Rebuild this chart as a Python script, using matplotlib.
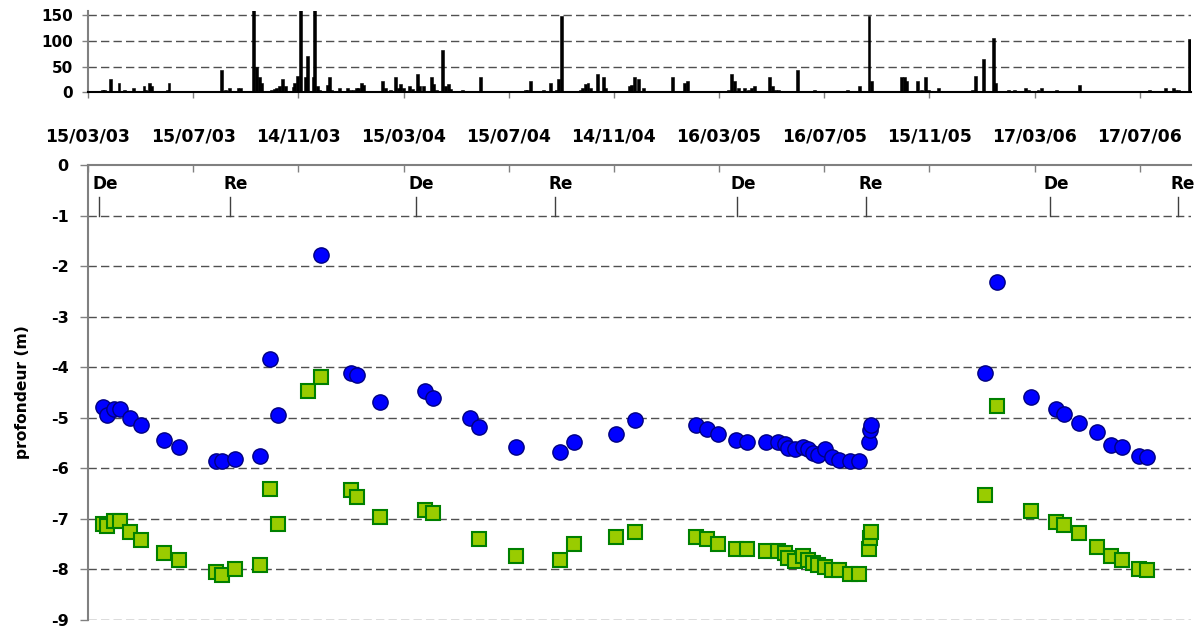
import numpy as np
import pandas as pd
import matplotlib
matplotlib.use('Agg')
import matplotlib.pyplot as plt

plt.rcParams['font.family'] = ['DejaVu Sans']
plt.rcParams['font.weight'] = 'bold'
plt.rcParams['axes.unicode_minus'] = False

# pluie journaliere (mm), jours comptes depuis le 15/03/2003
pluie_j = [17, 19, 26, 36, 42, 53, 65, 67, 71, 74, 92, 94,
           155, 159, 164, 174, 177, 192, 196, 199, 201, 213, 216, 219,
           222, 226, 229, 238, 240, 243, 246, 252, 255, 261, 263, 266,
           269, 278, 280, 283, 292, 301, 305, 308, 311, 314, 317, 320,
           342, 345, 351, 357, 360, 363, 366, 373, 376, 382, 385, 389,
           398, 401, 404, 411, 415, 418, 421, 434, 455, 507, 510, 513,
           528, 537, 543, 546, 549, 571, 574, 577, 580, 583, 591, 598,
           600, 628, 631, 634, 639, 644, 678, 692, 695, 743, 747, 750,
           755, 762, 766, 770, 773, 791, 794, 797, 801, 823, 843, 881,
           895, 906, 909, 944, 947, 950, 962, 967, 971, 975, 987, 1026,
           1029, 1039, 1050, 1053, 1068, 1075, 1087, 1091, 1102, 1106, 1123, 1150,
           1231, 1250, 1259, 1262, 1265, 1278]
pluie_mm = [4, 4, 26, 19, 5, 8, 12, 5, 18, 12, 4, 19,
            43, 4, 8, 8, 8, 180, 50, 30, 19, 4, 6, 8,
            13, 26, 13, 11, 18, 32, 200, 29, 71, 30, 185, 13,
            5, 14, 29, 5, 8, 8, 5, 5, 8, 8, 19, 14,
            22, 8, 5, 29, 8, 16, 8, 12, 6, 36, 12, 12,
            29, 16, 5, 82, 12, 16, 6, 5, 29, 4, 5, 22,
            5, 19, 5, 26, 148, 5, 8, 16, 19, 8, 36, 29,
            8, 12, 14, 29, 26, 8, 29, 19, 22, 4, 36, 22,
            8, 8, 5, 9, 12, 29, 12, 5, 5, 43, 5, 4,
            12, 148, 22, 29, 29, 22, 22, 5, 29, 5, 8, 4,
            32, 64, 106, 18, 4, 4, 8, 4, 4, 8, 4, 15,
            4, 8, 8, 4, 4, 103]

dates_bleu = ['2003-04-01', '2003-04-06', '2003-04-14', '2003-04-21', '2003-05-03',
              '2003-05-15', '2003-06-11', '2003-06-28', '2003-08-11', '2003-08-17',
              '2003-09-01', '2003-09-30', '2003-10-12', '2003-10-21', '2003-12-10',
              '2004-01-14', '2004-01-21', '2004-02-17', '2004-04-09', '2004-04-18',
              '2004-05-31', '2004-06-10', '2004-07-24', '2004-09-12', '2004-09-29',
              '2004-11-16', '2004-12-09', '2005-02-17', '2005-03-02', '2005-03-15',
              '2005-04-05', '2005-04-18', '2005-05-10', '2005-05-23', '2005-05-31',
              '2005-06-04', '2005-06-12', '2005-06-21', '2005-06-27', '2005-07-03',
              '2005-07-09', '2005-07-17', '2005-07-25', '2005-08-02', '2005-08-15',
              '2005-08-25', '2005-09-06', '2005-09-07', '2005-09-08', '2006-01-18',
              '2006-02-01', '2006-03-13', '2006-04-11', '2006-04-20', '2006-05-08',
              '2006-05-29', '2006-06-14', '2006-06-27', '2006-07-16', '2006-07-26']
prof_bleu = [-4.78, -4.94, -4.83, -4.83, -5.01,
             -5.15, -5.43, -5.58, -5.86, -5.86,
             -5.82, -5.75, -3.83, -4.94, -1.78,
             -4.12, -4.16, -4.69, -4.47, -4.61,
             -5.01, -5.18, -5.57, -5.68, -5.47,
             -5.32, -5.04, -5.14, -5.22, -5.32,
             -5.43, -5.47, -5.47, -5.47, -5.51,
             -5.59, -5.62, -5.57, -5.61, -5.69,
             -5.73, -5.61, -5.78, -5.83, -5.85,
             -5.85, -5.47, -5.24, -5.14, -4.12,
             -2.31, -4.58, -4.83, -4.93, -5.11,
             -5.29, -5.53, -5.57, -5.75, -5.78]

dates_vert = ['2003-04-01', '2003-04-06', '2003-04-14', '2003-04-21', '2003-05-03',
              '2003-05-15', '2003-06-11', '2003-06-28', '2003-08-11', '2003-08-17',
              '2003-09-01', '2003-09-30', '2003-10-12', '2003-10-21', '2003-11-25',
              '2003-12-10', '2004-01-14', '2004-01-21', '2004-02-17', '2004-04-09',
              '2004-04-18', '2004-06-10', '2004-07-24', '2004-09-12', '2004-09-29',
              '2004-11-16', '2004-12-09', '2005-02-17', '2005-03-02', '2005-03-15',
              '2005-04-05', '2005-04-18', '2005-05-10', '2005-05-23', '2005-05-31',
              '2005-06-04', '2005-06-12', '2005-06-21', '2005-06-27', '2005-07-03',
              '2005-07-09', '2005-07-17', '2005-07-25', '2005-08-02', '2005-08-15',
              '2005-08-25', '2005-09-06', '2005-09-07', '2005-09-08', '2006-01-18',
              '2006-02-01', '2006-03-13', '2006-04-11', '2006-04-20', '2006-05-08',
              '2006-05-29', '2006-06-14', '2006-06-27', '2006-07-16', '2006-07-26']
prof_vert = [-7.11, -7.15, -7.04, -7.04, -7.25,
             -7.42, -7.67, -7.82, -8.06, -8.10,
             -7.99, -7.92, -6.40, -7.10, -4.47,
             -4.20, -6.42, -6.57, -6.96, -6.82,
             -6.88, -7.39, -7.74, -7.81, -7.49,
             -7.35, -7.25, -7.35, -7.39, -7.49,
             -7.60, -7.60, -7.63, -7.63, -7.67,
             -7.77, -7.84, -7.73, -7.81, -7.87,
             -7.91, -7.95, -8.02, -8.02, -8.09,
             -8.09, -7.60, -7.38, -7.25, -6.52,
             -4.76, -6.85, -7.07, -7.13, -7.28,
             -7.56, -7.74, -7.81, -7.99, -8.02]

# periodes : De = decrue, Re = recharge
periode_dates = ['2003-03-28', '2003-08-27', '2004-03-29', '2004-09-07',
                 '2005-04-06', '2005-09-02', '2006-04-04', '2006-08-30']
periode_txt = ['De', 'Re', 'De', 'Re', 'De', 'Re', 'De', 'Re']

graduations = ['2003-03-15', '2003-07-15', '2003-11-14', '2004-03-15',
               '2004-07-15', '2004-11-14', '2005-03-16', '2005-07-16',
               '2005-11-15', '2006-03-17', '2006-07-17']

debut = pd.Timestamp('2003-03-15')
fin = debut + pd.Timedelta(days=1279.5)
grad = pd.to_datetime(graduations)

W, H = 1196, 635
fig = plt.figure(figsize=(W / 100, H / 100), dpi=100)


def boite(x0, y0, x1, y1):
    return [x0 / W, 1 - y1 / H, (x1 - x0) / W, (y1 - y0) / H]


grille = dict(color='#505050', lw=1.0, ls=(0, (6, 3)))

# --- pluie ---
ax_p = fig.add_axes(boite(88, 10.9, 1191, 92.3))
ax_p.bar(debut + pd.to_timedelta(pluie_j, unit='D'), pluie_mm, width=3.4,
         color='black', edgecolor='black', linewidth=0.4, zorder=3)
ax_p.set_xlim(debut, fin)
ax_p.set_ylim(0, 158)
ax_p.set_yticks([0, 50, 100, 150])
for v in [50, 100, 150]:
    ax_p.axhline(v, zorder=1, **grille)
ax_p.set_xticks(grad)
ax_p.set_xticklabels([d.strftime('%d/%m/%y') for d in grad])
for s in ['top', 'right']:
    ax_p.spines[s].set_visible(False)
ax_p.spines['left'].set_color('#808080')
ax_p.spines['left'].set_linewidth(1.5)
ax_p.spines['bottom'].set_color('black')
ax_p.spines['bottom'].set_linewidth(1.5)
ax_p.tick_params(axis='x', direction='out', length=4, width=1, color='#808080',
                 pad=21, labelsize=12.4)
ax_p.tick_params(axis='y', direction='out', length=4, width=1, color='#808080',
                 pad=7, labelsize=11)

# --- profondeurs ---
ax = fig.add_axes(boite(88, 165, 1191, 620))
ax.plot(pd.to_datetime(dates_bleu), prof_bleu, 'o', ms=11, mfc='#0000FF',
        mec='#000080', mew=1, zorder=4)
ax.plot(pd.to_datetime(dates_vert), prof_vert, 's', ms=10, mfc='#99CC00',
        mec='#008000', mew=1.5, zorder=4)
ax.set_xlim(debut, fin)
ax.set_ylim(-9, 0)
ax.set_yticks(np.arange(-9, 1))
for v in range(-9, 0):
    ax.axhline(v, zorder=1, **grille)

for d, t in zip(pd.to_datetime(periode_dates), periode_txt):
    ax.plot([d, d], [-0.63, -1.0], color='#404040', lw=1, zorder=2)
    ax.text(d - pd.Timedelta(days=8), -0.38, t, ha='left', va='center',
            fontsize=12.2, fontweight='bold')

ax.set_xticks(grad)
ax.xaxis.tick_top()
ax.tick_params(axis='x', direction='in', length=5, width=1, color='#808080',
               labeltop=False, labelbottom=False)
ax.tick_params(axis='y', direction='out', length=5.8, width=1, color='#808080',
               pad=8, labelsize=11.5)
for s in ['bottom', 'right']:
    ax.spines[s].set_visible(False)
for s in ['top', 'left']:
    ax.spines[s].set_color('#808080')
    ax.spines[s].set_linewidth(1.5)

fig.text(22 / W, 1 - 392.5 / H, 'profondeur (m)', rotation=90, ha='center',
         va='center', fontsize=11.2, fontweight='bold')

fig.savefig('out.png', dpi=100)
